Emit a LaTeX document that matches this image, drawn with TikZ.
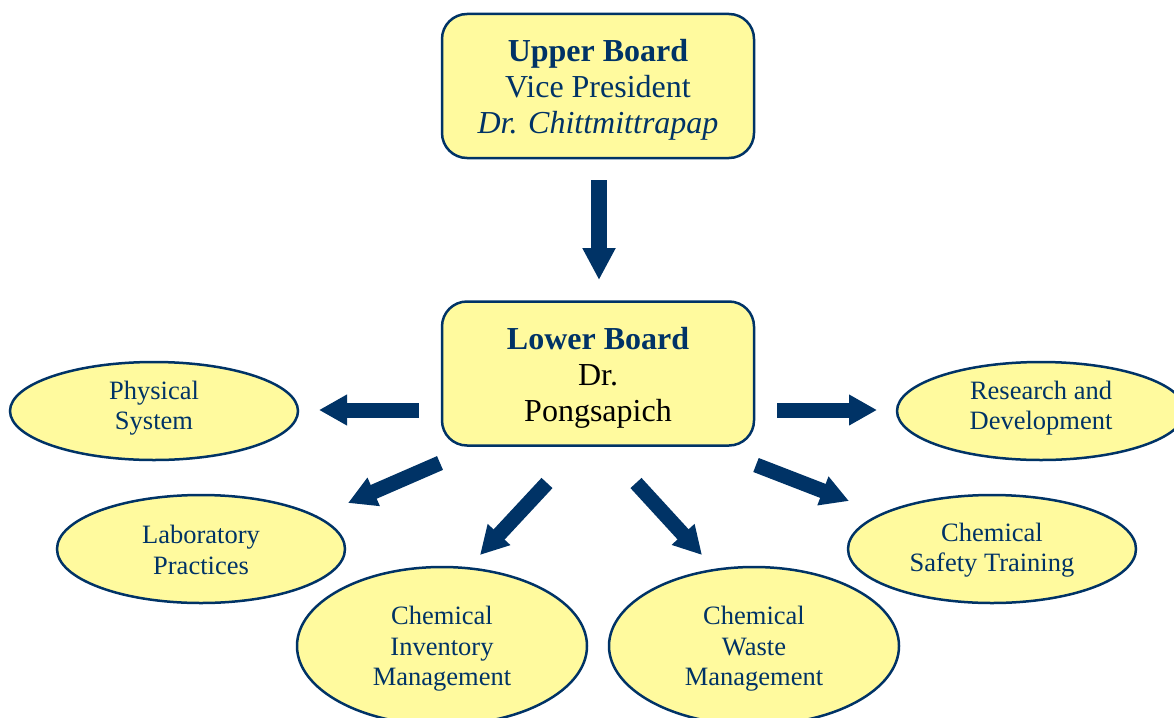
\documentclass[tikz,border=0pt]{standalone}
\usepackage{fontspec}
\setmainfont{Liberation Serif}
\usetikzlibrary{arrows.meta,shapes.geometric}
\definecolor{navy}{HTML}{003366}
\definecolor{pale}{HTML}{FFFA9E}
\tikzset{
  board/.style={draw=navy, line width=2.5pt, fill=pale, rounded corners=25pt,
    minimum width=312pt, minimum height=144pt, inner sep=0pt},
  boardtext/.style={align=center, inner sep=0pt, text=navy,
    font=\fontsize{32}{36}\selectfont},
  oval/.style={draw=navy, line width=2.5pt, fill=pale, ellipse, inner sep=0pt,
    minimum width=288pt, minimum height=98pt},
  ovaltext/.style={align=center, inner sep=0pt, text=navy,
    font=\fontsize{26.5}{30.5}\selectfont},
  bigarrow/.style={draw=navy, line width=15pt,
    -{Triangle[length=28pt,width=29pt]}},
}
\begin{document}
\begin{tikzpicture}[x=1pt,y=-1pt]
\useasboundingbox (0,0) rectangle (1174,717);
\clip (0,0) rectangle (1174,717);
\node[board] (upper) at (598,86) {};
\node[boardtext] (uppert) at (598,90) {\textbf{Upper Board}\\Vice President\\\textit{Dr. Chittmittrapap}};
\node[board] (lower) at (598,373.5) {};
\node[boardtext] (lowert) at (598,377.5) {\textbf{Lower Board}\\\color{black}Dr.\\\color{black}Pongsapich};
\node[oval] (phys) at (154,411) {};
\node[ovaltext] (physt) at (154,408) {Physical\\System};
\node[oval] (rnd) at (1041,411) {};
\node[ovaltext] (rndt) at (1041,408) {Research and\\Development};
\node[oval, minimum height=108pt] (lab) at (201,549) {};
\node[ovaltext] (labt) at (201,550) {Laboratory\\Practices};
\node[oval, minimum height=108pt] (cst) at (992,549) {};
\node[ovaltext] (cstt) at (992,550) {Chemical\\Safety Training};
\node[oval, minimum width=290pt, minimum height=158pt] (cim) at (442,646) {};
\node[ovaltext] (cimt) at (442,649) {Chemical\\Inventory\\Management};
\node[oval, minimum width=290pt, minimum height=158pt] (cwm) at (754,646) {};
\node[ovaltext] (cwmt) at (754,649) {Chemical\\Waste\\Management};
% arrow end points
\coordinate (a1s) at (599,180); \coordinate (a1e) at (599,280);
\coordinate (a2s) at (419,410); \coordinate (a2e) at (319,410);
\coordinate (a3s) at (777,410); \coordinate (a3e) at (877,410);
\coordinate (a4s) at (440,463); \coordinate (a4e) at (348,503);
\coordinate (a5s) at (547,483); \coordinate (a5e) at (480,555);
\coordinate (a6s) at (636,483); \coordinate (a6e) at (702,555);
\coordinate (a7s) at (756,465); \coordinate (a7e) at (849,501);
\draw[bigarrow, line width=16pt, -{Triangle[length=32pt,width=31pt]}] (a1s) -- (a1e);
\draw[bigarrow] (a2s) -- (a2e);
\draw[bigarrow] (a3s) -- (a3e);
\draw[bigarrow] (a4s) -- (a4e);
\draw[bigarrow] (a5s) -- (a5e);
\draw[bigarrow] (a6s) -- (a6e);
\draw[bigarrow] (a7s) -- (a7e);
\end{tikzpicture}
\end{document}
